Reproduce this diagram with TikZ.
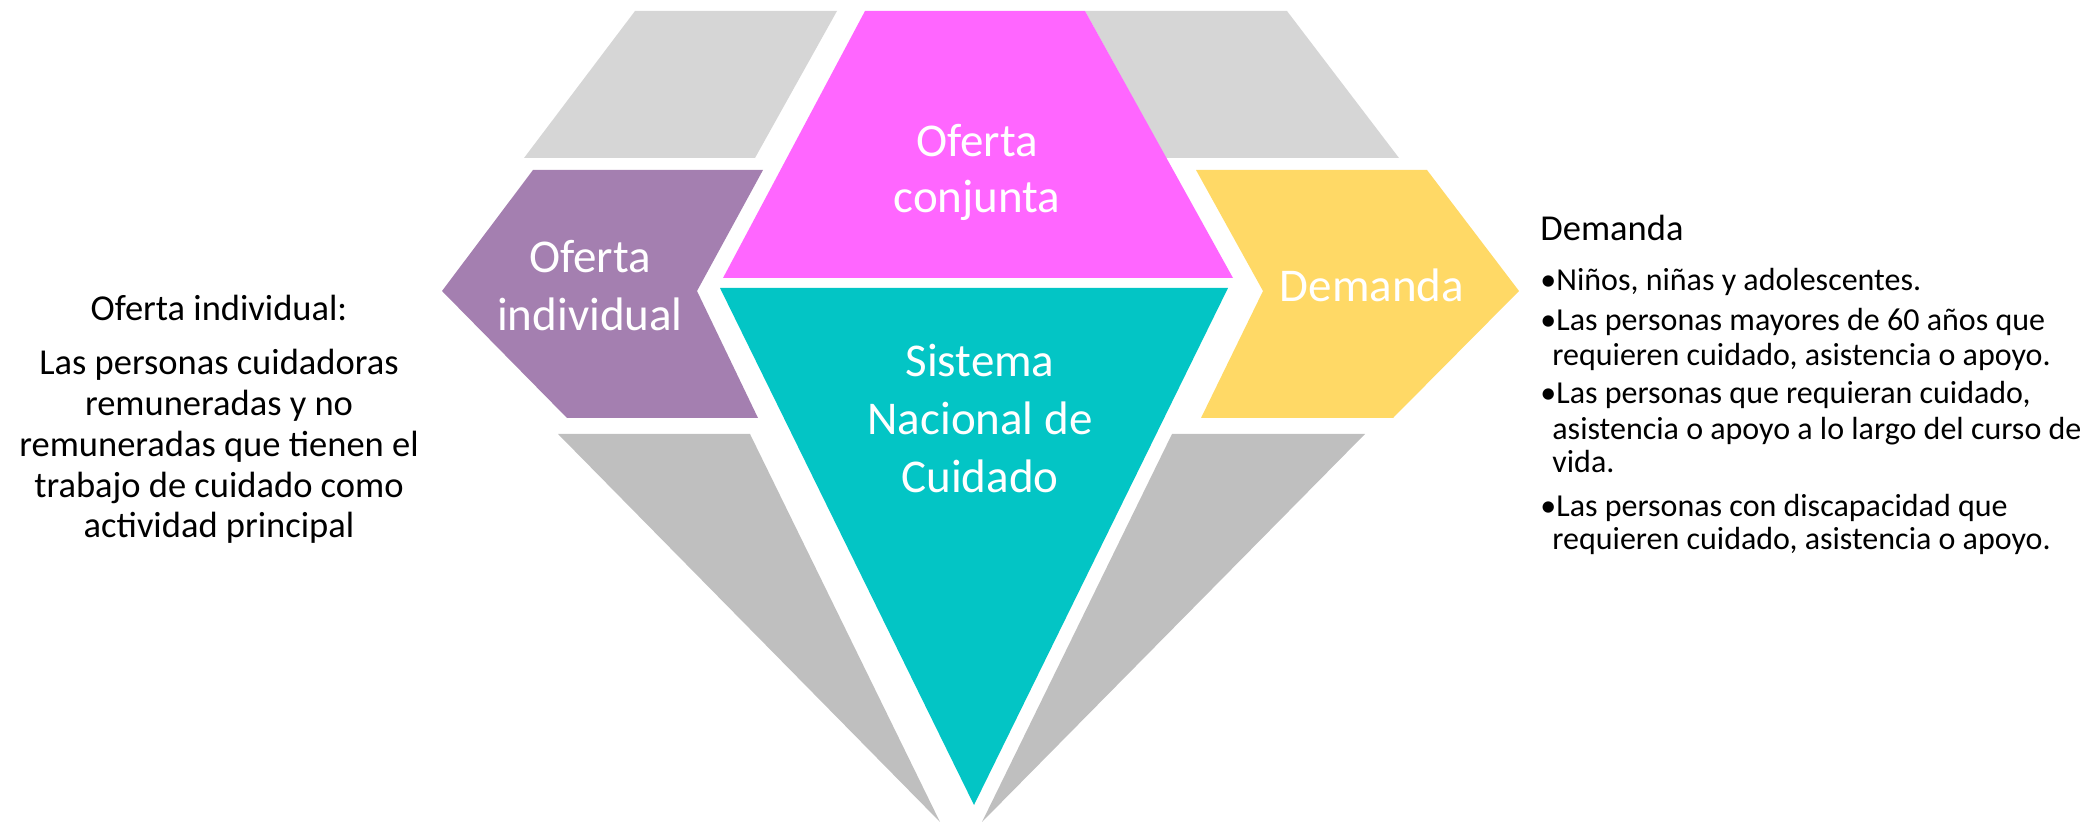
\documentclass[tikz,border=0pt]{standalone}
\usepackage{fontspec}
\setmainfont{Carlito}
\definecolor{gtop}{HTML}{D6D6D6}
\definecolor{gbot}{HTML}{BFBFBF}
\definecolor{purp}{HTML}{A47FB0}
\definecolor{pinkc}{HTML}{FF66FF}
\definecolor{tealc}{HTML}{03C5C5}
\definecolor{goldc}{HTML}{FFD966}
\begin{document}
\begin{tikzpicture}[x=0.5pt,y=-0.5pt,
  lbl/.style={text=white,font=\fontsize{23.5}{28}\selectfont,inner sep=0,anchor=base},
  bodyc/.style={text=black,font=\fontsize{18.25}{22}\selectfont,inner sep=0,anchor=base},
  headl/.style={text=black,font=\fontsize{18.25}{22}\selectfont,inner sep=0,anchor=base west},
  bodyl/.style={text=black,font=\fontsize{16}{19}\selectfont,inner sep=0,anchor=base west}]
\useasboundingbox (0,0) rectangle (2100,822);
% facets
\fill[gtop] (635,11) -- (837,11) -- (755,158) -- (524,158) -- cycle;
\fill[gtop] (1085,11) -- (1287,11) -- (1399,158) -- (1166,158) -- cycle;
\fill[pinkc] (865,11) -- (1085,11) -- (1233,278) -- (723,278) -- cycle;
\fill[purp] (533,170) -- (763,170) -- (697,291) -- (758,418) -- (567,418) -- (442,291) -- cycle;
\fill[goldc] (1196,170) -- (1427,170) -- (1519,291) -- (1393,418) -- (1201,418) -- (1263,291) -- cycle;
\fill[tealc] (720,288) -- (1228,288) -- (974,805) -- cycle;
\fill[gbot] (558,434) -- (750,434) -- (940,822) -- cycle;
\fill[gbot] (1172,434) -- (1365,434) -- (982,822) -- cycle;
% white labels
\node[lbl] (oc1) at (977,157) {Oferta};
\node[lbl] (oc2) at (977,213) {conjunta};
\node[lbl] (oi1) at (590,273) {Oferta};
\node[lbl] (oi2) at (590,331) {individual};
\node[lbl] (dm) at (1372,302) {Demanda};
\node[lbl] (sn1) at (980,377) {Sistema};
\node[lbl] (sn2) at (980,435) {Nacional de};
\node[lbl] (sn3) at (980,493) {Cuidado};
% left text
\node[bodyc] (l0) at (219,321) {Oferta individual:};
\node[bodyc] (l1) at (219,375) {Las personas cuidadoras};
\node[bodyc] (l2) at (219,416) {remuneradas y no};
\node[bodyc] (l3) at (219,457) {remuneradas que tienen el};
\node[bodyc] (l4) at (219,498) {trabajo de cuidado como};
\node[bodyc] (l5) at (219,538) {actividad principal};
% right text
\node[headl] (r0) at (1540,241) {Demanda};
\node[bodyl] (r1) at (1540,291) {•Niños, niñas y adolescentes.};
\node[bodyl] (r2) at (1540,331) {•Las personas mayores de 60 años que};
\node[bodyl] (r2b) at (1552,366) {requieren cuidado, asistencia o apoyo.};
\node[bodyl] (r3) at (1540,404) {•Las personas que requieran cuidado,};
\node[bodyl] (r3b) at (1552,440) {asistencia o apoyo a lo largo del curso de};
\node[bodyl] (r3c) at (1552,473) {vida.};
\node[bodyl] (r4) at (1540,517) {•Las personas con discapacidad que};
\node[bodyl] (r4b) at (1552,550) {requieren cuidado, asistencia o apoyo.};
\end{tikzpicture}
\end{document}
